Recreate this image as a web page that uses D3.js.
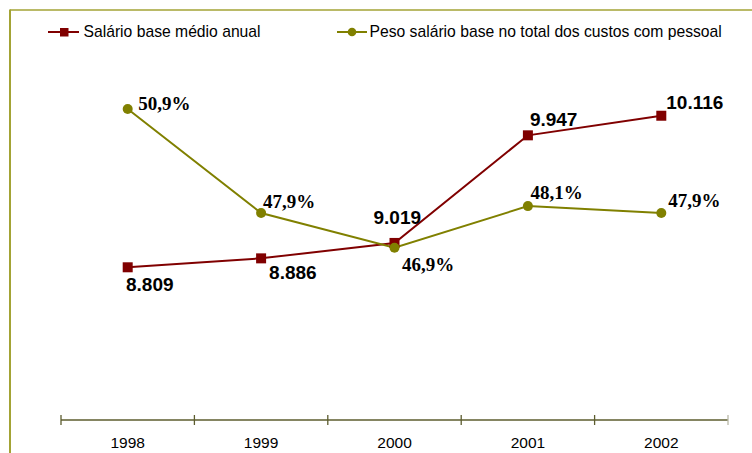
<!DOCTYPE html>
<html>
<head>
<meta charset="utf-8">
<script src="https://cdn.jsdelivr.net/npm/d3@7"></script>
<style>
  html, body { margin: 0; padding: 0; background: #fff; }
  svg { display: block; }
</style>
</head>
<body>
<svg id="chart" width="752" height="453"></svg>
<script>
// ---- data ----
const years = ["1998", "1999", "2000", "2001", "2002"];
const salario = [8809, 8886, 9019, 9947, 10116];
const salarioLabels = ["8.809", "8.886", "9.019", "9.947", "10.116"];
const peso = [50.9, 47.9, 46.9, 48.1, 47.9];
const pesoLabels = ["50,9%", "47,9%", "46,9%", "48,1%", "47,9%"];
const seriesNames = ["Salário base médio anual", "Peso salário base no total dos custos com pessoal"];

// ---- label offsets (style) ----
const salarioOff = [[-1.7, 24], [8, 21], [-21, -19], [2, -9], [5, -7]];
const pesoOff = [[10.5, 1], [2, -5], [7.5, 23], [2.5, -7], [7, -6]];

const RED = "#800000", OLIVE = "#808000", FRAME = "#a3a335", AXIS = "#5c5c2e";
const SANS = "'Liberation Sans', Arimo, Arial, sans-serif";
const SERIF = "'Liberation Serif', Tinos, 'Times New Roman', serif";

const svg = d3.select("#chart");

// frame (only top and left edges visible)
svg.append("line").attr("x1", 10).attr("x2", 752).attr("y1", 10).attr("y2", 10)
  .attr("stroke", FRAME).attr("stroke-width", 1.5);
svg.append("line").attr("x1", 10).attr("x2", 10).attr("y1", 9.5).attr("y2", 453)
  .attr("stroke", FRAME).attr("stroke-width", 2);

// scales
const x = d3.scaleBand().domain(years).range([61, 728]).padding(0);
const ySal = d3.scaleLinear().domain([8000, 10500]).range([361.1, 71.2]);
const yPeso = d3.scaleLinear().domain([45, 52]).range([313.6, 70.9]);
const cx = d => x(d) + x.bandwidth() / 2;
const axisY = 420;

// x axis: line + boundary ticks
const axisG = svg.append("g").attr("transform", `translate(0,${axisY})`);
axisG.call(d3.axisBottom(x).tickSize(0).tickPadding(14))
  .call(g => g.select(".domain").remove())
  .call(g => g.attr("font-family", SANS).attr("font-size", 15.5))
  .call(g => g.selectAll("text").style("font-family", SANS)
      .style("font-size", "15.5px").attr("fill", "#000").attr("dy", "0.9em"));
axisG.append("line").attr("x1", x.range()[0]).attr("x2", x.range()[1]).attr("y1", 0).attr("y2", 0)
  .attr("stroke", AXIS).attr("stroke-width", 1.3);
const bounds = years.map(y => x(y)).concat([x.range()[1]]);
axisG.selectAll("line.tk").data(bounds).enter().append("line").attr("class", "tk")
  .attr("x1", d => d).attr("x2", d => d).attr("y1", -5).attr("y2", 5)
  .attr("stroke", (d, i) => i === bounds.length - 1 ? "#b8b8a8" : AXIS).attr("stroke-width", 1.3);

// lines
const lineSal = d3.line().x((d, i) => cx(years[i])).y(d => ySal(d));
const linePeso = d3.line().x((d, i) => cx(years[i])).y(d => yPeso(d));

svg.append("path").datum(salario).attr("d", lineSal).attr("fill", "none")
  .attr("stroke", RED).attr("stroke-width", 2);
svg.append("path").datum(peso).attr("d", linePeso).attr("fill", "none")
  .attr("stroke", OLIVE).attr("stroke-width", 2);

// markers
svg.selectAll("rect.sal").data(salario).enter().append("rect").attr("class", "sal")
  .attr("x", (d, i) => cx(years[i]) - 5).attr("y", d => ySal(d) - 5)
  .attr("width", 10).attr("height", 10).attr("fill", RED);
svg.selectAll("circle.peso").data(peso).enter().append("circle").attr("class", "peso")
  .attr("cx", (d, i) => cx(years[i])).attr("cy", d => yPeso(d)).attr("r", 5).attr("fill", OLIVE);

// value labels
svg.selectAll("text.salv").data(salario).enter().append("text").attr("class", "salv")
  .attr("x", (d, i) => cx(years[i]) + salarioOff[i][0])
  .attr("y", (d, i) => ySal(d) + salarioOff[i][1])
  .style("font-family", SANS).style("font-weight", "bold")
  .style("font-size", "19px").attr("fill", "#000")
  .text((d, i) => salarioLabels[i]);
svg.selectAll("text.pesov").data(peso).enter().append("text").attr("class", "pesov")
  .attr("x", (d, i) => cx(years[i]) + pesoOff[i][0])
  .attr("y", (d, i) => yPeso(d) + pesoOff[i][1])
  .style("font-family", SERIF).style("font-weight", "bold")
  .style("font-size", "19px").attr("fill", "#000")
  .text((d, i) => pesoLabels[i]);

// legend
const leg = svg.append("g");
// item 1
leg.append("line").attr("x1", 48).attr("x2", 79).attr("y1", 32).attr("y2", 32)
  .attr("stroke", RED).attr("stroke-width", 2);
leg.append("rect").attr("x", 60).attr("y", 28).attr("width", 8.5).attr("height", 8.5).attr("fill", RED);
leg.append("text").attr("x", 83.5).attr("y", 37).style("font-family", SANS)
  .style("font-size", "15.7px").attr("fill", "#000").text(seriesNames[0]);
// item 2
leg.append("line").attr("x1", 337).attr("x2", 367).attr("y1", 32).attr("y2", 32)
  .attr("stroke", OLIVE).attr("stroke-width", 2);
leg.append("circle").attr("cx", 352).attr("cy", 32).attr("r", 4.3).attr("fill", OLIVE);
leg.append("text").attr("x", 369.5).attr("y", 37).style("font-family", SANS)
  .style("font-size", "15.7px").attr("fill", "#000").text(seriesNames[1]);
</script>
</body>
</html>
